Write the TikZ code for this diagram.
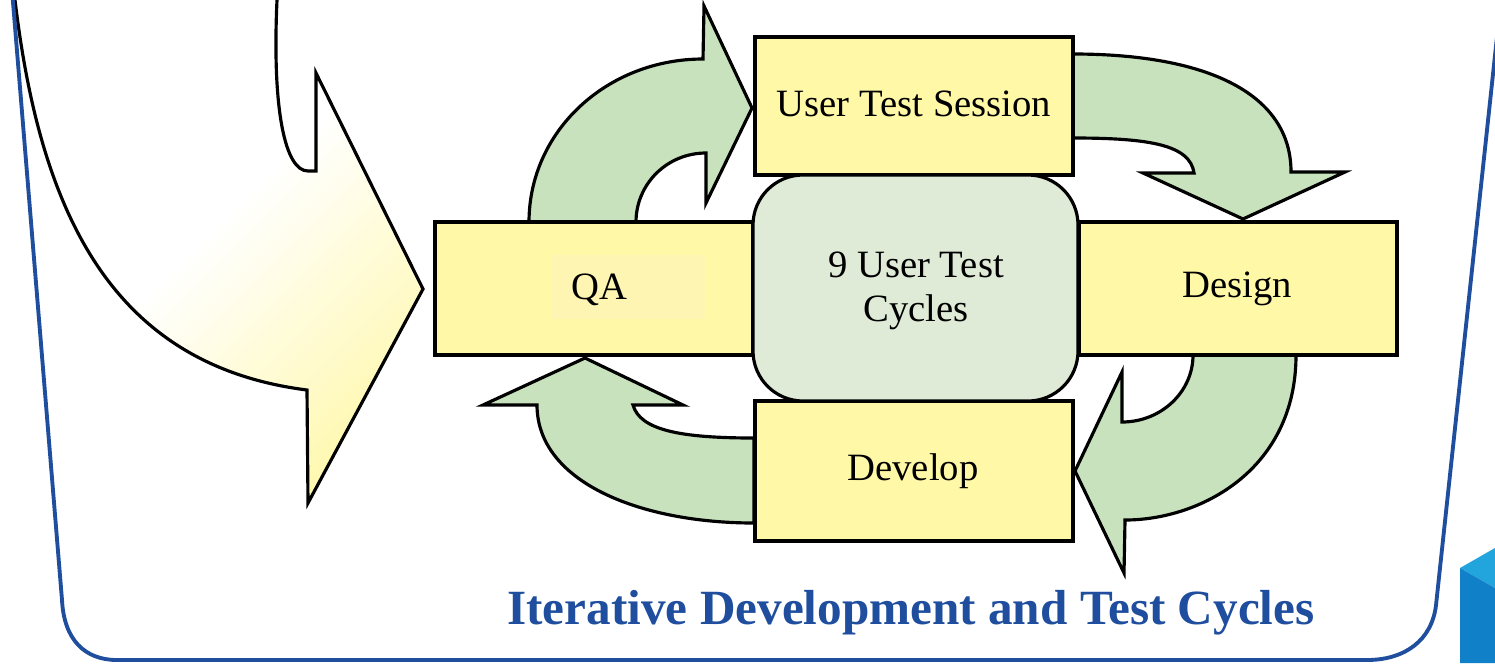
\documentclass[tikz,border=0pt]{standalone}
\usepackage{fontspec}
\setmainfont{Liberation Serif}
\definecolor{boxyellow}{RGB}{255,248,166}
\definecolor{innerqa}{RGB}{255,245,178}
\definecolor{arrowgreen}{RGB}{201,226,190}
\definecolor{centergreen}{RGB}{223,235,214}
\definecolor{frameblue}{RGB}{31,78,158}
\definecolor{blocklight}{RGB}{34,165,220}
\definecolor{blockdark}{RGB}{16,128,200}
\definecolor{bigyellow}{RGB}{255,246,150}
\pgfdeclareverticalshading{bigarrowshade}{100bp}{color(0bp)=(bigyellow); color(15bp)=(bigyellow); color(33bp)=(bigyellow!50!white); color(52bp)=(white); color(100bp)=(white)}
\tikzset{
  outl/.style={draw=black, line width=0.9pt, line join=miter},
  greenarrow/.style={outl, fill=arrowgreen},
  ybox/.style={outl, fill=boxyellow, rectangle, inner sep=0pt, font=\fontsize{11pt}{12.5pt}\selectfont},
  cbox/.style={outl, fill=centergreen, rectangle, rounded corners=5mm, inner sep=0pt},
  lbl/.style={inner sep=0pt, align=center, font=\fontsize{11pt}{12.5pt}\selectfont},
  frame/.style={draw=frameblue, line width=1.1pt},
  titlestyle/.style={text=frameblue, inner sep=0pt, font=\fontsize{14pt}{16pt}\selectfont\bfseries}
}
\begin{document}
\begin{tikzpicture}[x=0.1mm,y=-0.1mm]
\useasboundingbox (0,0) rectangle (1495,663);
\clip (0,0) rectangle (1495,663);
% big incoming arrow (drawn with a positive y unit so the shading is oriented normally)
\begin{scope}[y=0.1mm]
\path[outl, shading=bigarrowshade, shading angle=45]
  (14,10) -- (15,0) .. controls (40,-210) and (110,-365) .. (307,-390)
  -- (308,-503) -- (423,-289) -- (316,-73) -- (316,-171) -- (308,-171)
  .. controls (285,-171) and (272,-110) .. (277,0) -- (278,10) -- cycle;
\end{scope}
% green cycle arrows
\draw[greenarrow] (529,222) .. controls (529,131) and (607,59) .. (703,59)
  -- (704,6) -- (752,108) -- (706,203) -- (706,153)
  .. controls (667,153) and (636,184) .. (636,222) -- cycle;
\draw[greenarrow] (1073,54) .. controls (1210,54) and (1291,95) .. (1291,172)
  -- (1345,172) -- (1243,219) -- (1143,173) -- (1194,173)
  .. controls (1190,145) and (1150,138) .. (1073,138) -- cycle;
\draw[greenarrow] (1296,355) .. controls (1296,470) and (1200,520) .. (1125,520)
  -- (1124,573) -- (1075,471) -- (1122,372) -- (1122,422)
  .. controls (1161,422) and (1193,392) .. (1193,355) -- cycle;
\draw[greenarrow] (754,523) .. controls (640,523) and (537,482) .. (537,405)
  -- (483,405) -- (585,358) -- (683,405) -- (633,405)
  .. controls (640,430) and (680,438) .. (754,438) -- cycle;
% boxes
\node[ybox, minimum width=31.8mm, minimum height=13.8mm] (uts) at (914,106) {};
\node[lbl] (utslabel) at (914,104) {User Test Session};
\node[ybox, minimum width=31.8mm, minimum height=13.3mm] (qa) at (594,288.5) {};
\fill[innerqa] (552,255) rectangle (705,319);
\node[lbl] (qalabel) at (599,290) {QA};
\node[ybox, minimum width=31.8mm, minimum height=13.3mm] (design) at (1238,288.5) {};
\node[lbl] (designlabel) at (1237,289) {Design};
\node[ybox, minimum width=31.8mm, minimum height=14mm] (develop) at (914,471) {};
\node[lbl] (developlabel) at (913,471) {Develop};
\node[cbox, minimum width=32.5mm, minimum height=22.6mm] (center) at (915.5,288) {};
\node[lbl] (centerlabel) at (916,291) {9 User Test\\Cycles};
% title
\node[titlestyle] (title) at (911,613) {Iterative Development and Test Cycles};
% frame
\draw[frame] (12,-10) -- (62,600) .. controls (64,640) and (85,660) .. (117,660)
  -- (1367,660) .. controls (1405,660) and (1432,640) .. (1436,605) -- (1502,-10);
% blue block
\fill[blocklight] (1460,568) -- (1495,548) -- (1495,588) -- cycle;
\fill[blockdark] (1460,568) -- (1495,588) -- (1495,663) -- (1460,663) -- cycle;
\end{tikzpicture}
\end{document}
